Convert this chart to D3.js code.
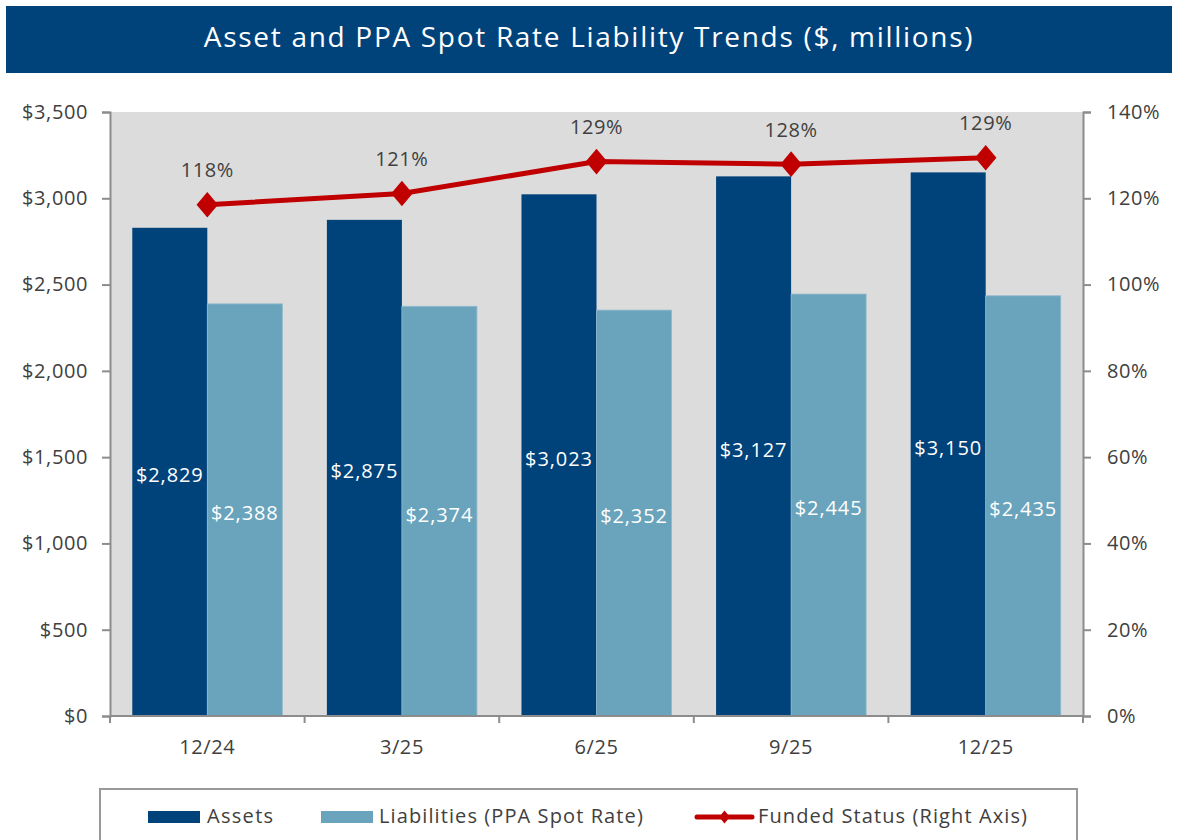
<!DOCTYPE html>
<html>
<head>
<meta charset="utf-8">
<script src="https://cdn.jsdelivr.net/npm/d3@7"></script>
<style>
  html, body { margin: 0; padding: 0; background: #fff; }
  svg { display: block; font-family: "Open Sans", "Noto Sans", sans-serif; }
</style>
</head>
<body>
<svg id="chart" width="1186" height="840"></svg>
<script>
const categories = ["12/24", "3/25", "6/25", "9/25", "12/25"];
const assets = [2829, 2875, 3023, 3127, 3150];
const liabilities = [2388, 2374, 2352, 2445, 2435];
const fundedStatus = [118.5, 121.1, 128.5, 127.9, 129.4];
const fundedLabels = ["118%", "121%", "129%", "128%", "129%"];
const leftTicks = [0, 500, 1000, 1500, 2000, 2500, 3000, 3500];
const rightTicks = [0, 20, 40, 60, 80, 100, 120, 140];
const seriesNames = ["Assets", "Liabilities (PPA Spot Rate)", "Funded Status (Right Axis)"];

const C_ASSET = "#00427a", C_LIAB = "#6aa4bc", C_LINE = "#c00000", C_TEXT = "#404040", C_AXIS = "#8c8c8c";

const svg = d3.select("#chart");

// Title bar
svg.append("rect").attr("x", 6).attr("y", 6).attr("width", 1166).attr("height", 67).attr("fill", C_ASSET);
svg.append("text").attr("x", 589).attr("y", 39.5).attr("text-anchor", "middle").attr("dominant-baseline", "middle")
  .attr("fill", "#fff").attr("font-size", 28).attr("letter-spacing", 1.7).text("Asset and PPA Spot Rate Liability Trends ($, millions)");

const m = { left: 110, right: 1083, top: 112, bottom: 716 };

const x = d3.scaleBand().domain(categories).range([m.left, m.right]).paddingInner(0.229).paddingOuter(0.1145);
const xc = d3.scaleBand().domain(categories).range([m.left, m.right]);
const yL = d3.scaleLinear().domain([0, 3500]).range([m.bottom, m.top]);
const yR = d3.scaleLinear().domain([0, 140]).range([m.bottom, m.top]);

// plot background
svg.append("rect").attr("x", m.left).attr("y", m.top).attr("width", m.right - m.left).attr("height", m.bottom - m.top).attr("fill", "#dcdcdc");

const bw = x.bandwidth() / 2;

// bars
const g = svg.append("g");
g.selectAll(".a").data(assets).join("rect")
  .attr("x", (d, i) => x(categories[i])).attr("y", d => yL(d))
  .attr("width", bw).attr("height", d => yL(0) - yL(d))
  .attr("fill", C_ASSET);
g.selectAll(".l").data(liabilities).join("rect")
  .attr("x", (d, i) => x(categories[i]) + bw).attr("y", d => yL(d))
  .attr("width", bw).attr("height", d => yL(0) - yL(d))
  .attr("fill", C_LIAB).attr("stroke", "#8fb9cb").attr("stroke-width", 0.8);

const fmt = d3.format(",");
g.selectAll(".at").data(assets).join("text")
  .attr("x", (d, i) => x(categories[i]) + bw / 2).attr("y", d => yL(d / 2) + 5)
  .attr("text-anchor", "middle").attr("dominant-baseline", "middle")
  .attr("fill", "#fff").attr("font-size", 20).attr("letter-spacing", 0.9).text(d => "$" + fmt(d));
g.selectAll(".lt").data(liabilities).join("text")
  .attr("x", (d, i) => x(categories[i]) + bw * 1.5).attr("y", d => yL(d / 2) + 5)
  .attr("text-anchor", "middle").attr("dominant-baseline", "middle")
  .attr("fill", "#fff").attr("font-size", 20).attr("letter-spacing", 0.9).text(d => "$" + fmt(d));

// axes
const axL = svg.append("g").attr("transform", `translate(${m.left},0)`)
  .call(d3.axisLeft(yL).tickValues(leftTicks).tickFormat(d => "$" + fmt(d)).tickSize(8).tickPadding(14));
const axR = svg.append("g").attr("transform", `translate(${m.right},0)`)
  .call(d3.axisRight(yR).tickValues(rightTicks).tickFormat(d => d + "%").tickSize(8).tickPadding(16));
const axB = svg.append("g").attr("transform", `translate(0,${m.bottom})`)
  .call(d3.axisBottom(xc).tickSize(0).tickPadding(24));
// category boundary ticks
svg.append("g").selectAll("line").data(d3.range(categories.length + 1)).join("line")
  .attr("x1", i => m.left + i * xc.step()).attr("x2", i => m.left + i * xc.step())
  .attr("y1", m.bottom).attr("y2", m.bottom + 7).attr("stroke", C_AXIS).attr("stroke-width", 2);

[axL, axR, axB].forEach(a => {
  a.select(".domain").attr("stroke", C_AXIS).attr("stroke-width", 2);
  a.selectAll(".tick line").attr("stroke", C_AXIS).attr("stroke-width", 2);
  a.selectAll("text").attr("fill", C_TEXT).attr("font-size", 20).attr("font-family", "\"Open Sans\", sans-serif").attr("letter-spacing", 0.6);
});
axB.select(".domain").attr("d", `M${m.left},0H${m.right}`);

// line
const cx = (d, i) => xc(categories[i]) + xc.bandwidth() / 2;
const line = d3.line().x((d, i) => cx(d, i)).y(d => yR(d));
svg.append("path").datum(fundedStatus).attr("d", line).attr("fill", "none").attr("stroke", C_LINE).attr("stroke-width", 5);
const diamond = d3.symbol().type(d3.symbolDiamond).size(190);
svg.append("g").selectAll("path").data(fundedStatus).join("path")
  .attr("transform", (d, i) => `translate(${cx(d, i)},${yR(d)}) scale(1.45,1)`)
  .attr("d", diamond).attr("fill", C_LINE);
svg.append("g").selectAll("text").data(fundedStatus).join("text")
  .attr("x", (d, i) => cx(d, i)).attr("y", d => yR(d) - 33)
  .attr("text-anchor", "middle").attr("dominant-baseline", "middle")
  .attr("fill", C_TEXT).attr("font-size", 20).attr("letter-spacing", 0.6).text((d, i) => fundedLabels[i]);

// legend
const lg = svg.append("g");
lg.append("rect").attr("x", 100).attr("y", 789).attr("width", 977).attr("height", 60)
  .attr("fill", "#fff").attr("stroke", "#999").attr("stroke-width", 2);
const legY = 818;
lg.append("rect").attr("x", 148).attr("y", 811).attr("width", 52).attr("height", 12).attr("fill", C_ASSET);
lg.append("text").attr("x", 207).attr("y", legY).attr("dominant-baseline", "middle").attr("fill", C_TEXT).attr("font-size", 20).attr("letter-spacing", 1.3).text(seriesNames[0]);
lg.append("rect").attr("x", 321).attr("y", 811).attr("width", 52).attr("height", 12).attr("fill", C_LIAB);
lg.append("text").attr("x", 379).attr("y", legY).attr("dominant-baseline", "middle").attr("fill", C_TEXT).attr("font-size", 20).attr("letter-spacing", 1.1).text(seriesNames[1]);
lg.append("line").attr("x1", 697).attr("x2", 752).attr("y1", 817).attr("y2", 817).attr("stroke", C_LINE).attr("stroke-width", 5).attr("stroke-linecap", "round");
lg.append("path").attr("transform", `translate(724.5,817) scale(1.4,1)`).attr("d", d3.symbol().type(d3.symbolDiamond).size(50)).attr("fill", C_LINE);
lg.append("text").attr("x", 758).attr("y", legY).attr("dominant-baseline", "middle").attr("fill", C_TEXT).attr("font-size", 20).attr("letter-spacing", 1.1).text(seriesNames[2]);
</script>
</body>
</html>
